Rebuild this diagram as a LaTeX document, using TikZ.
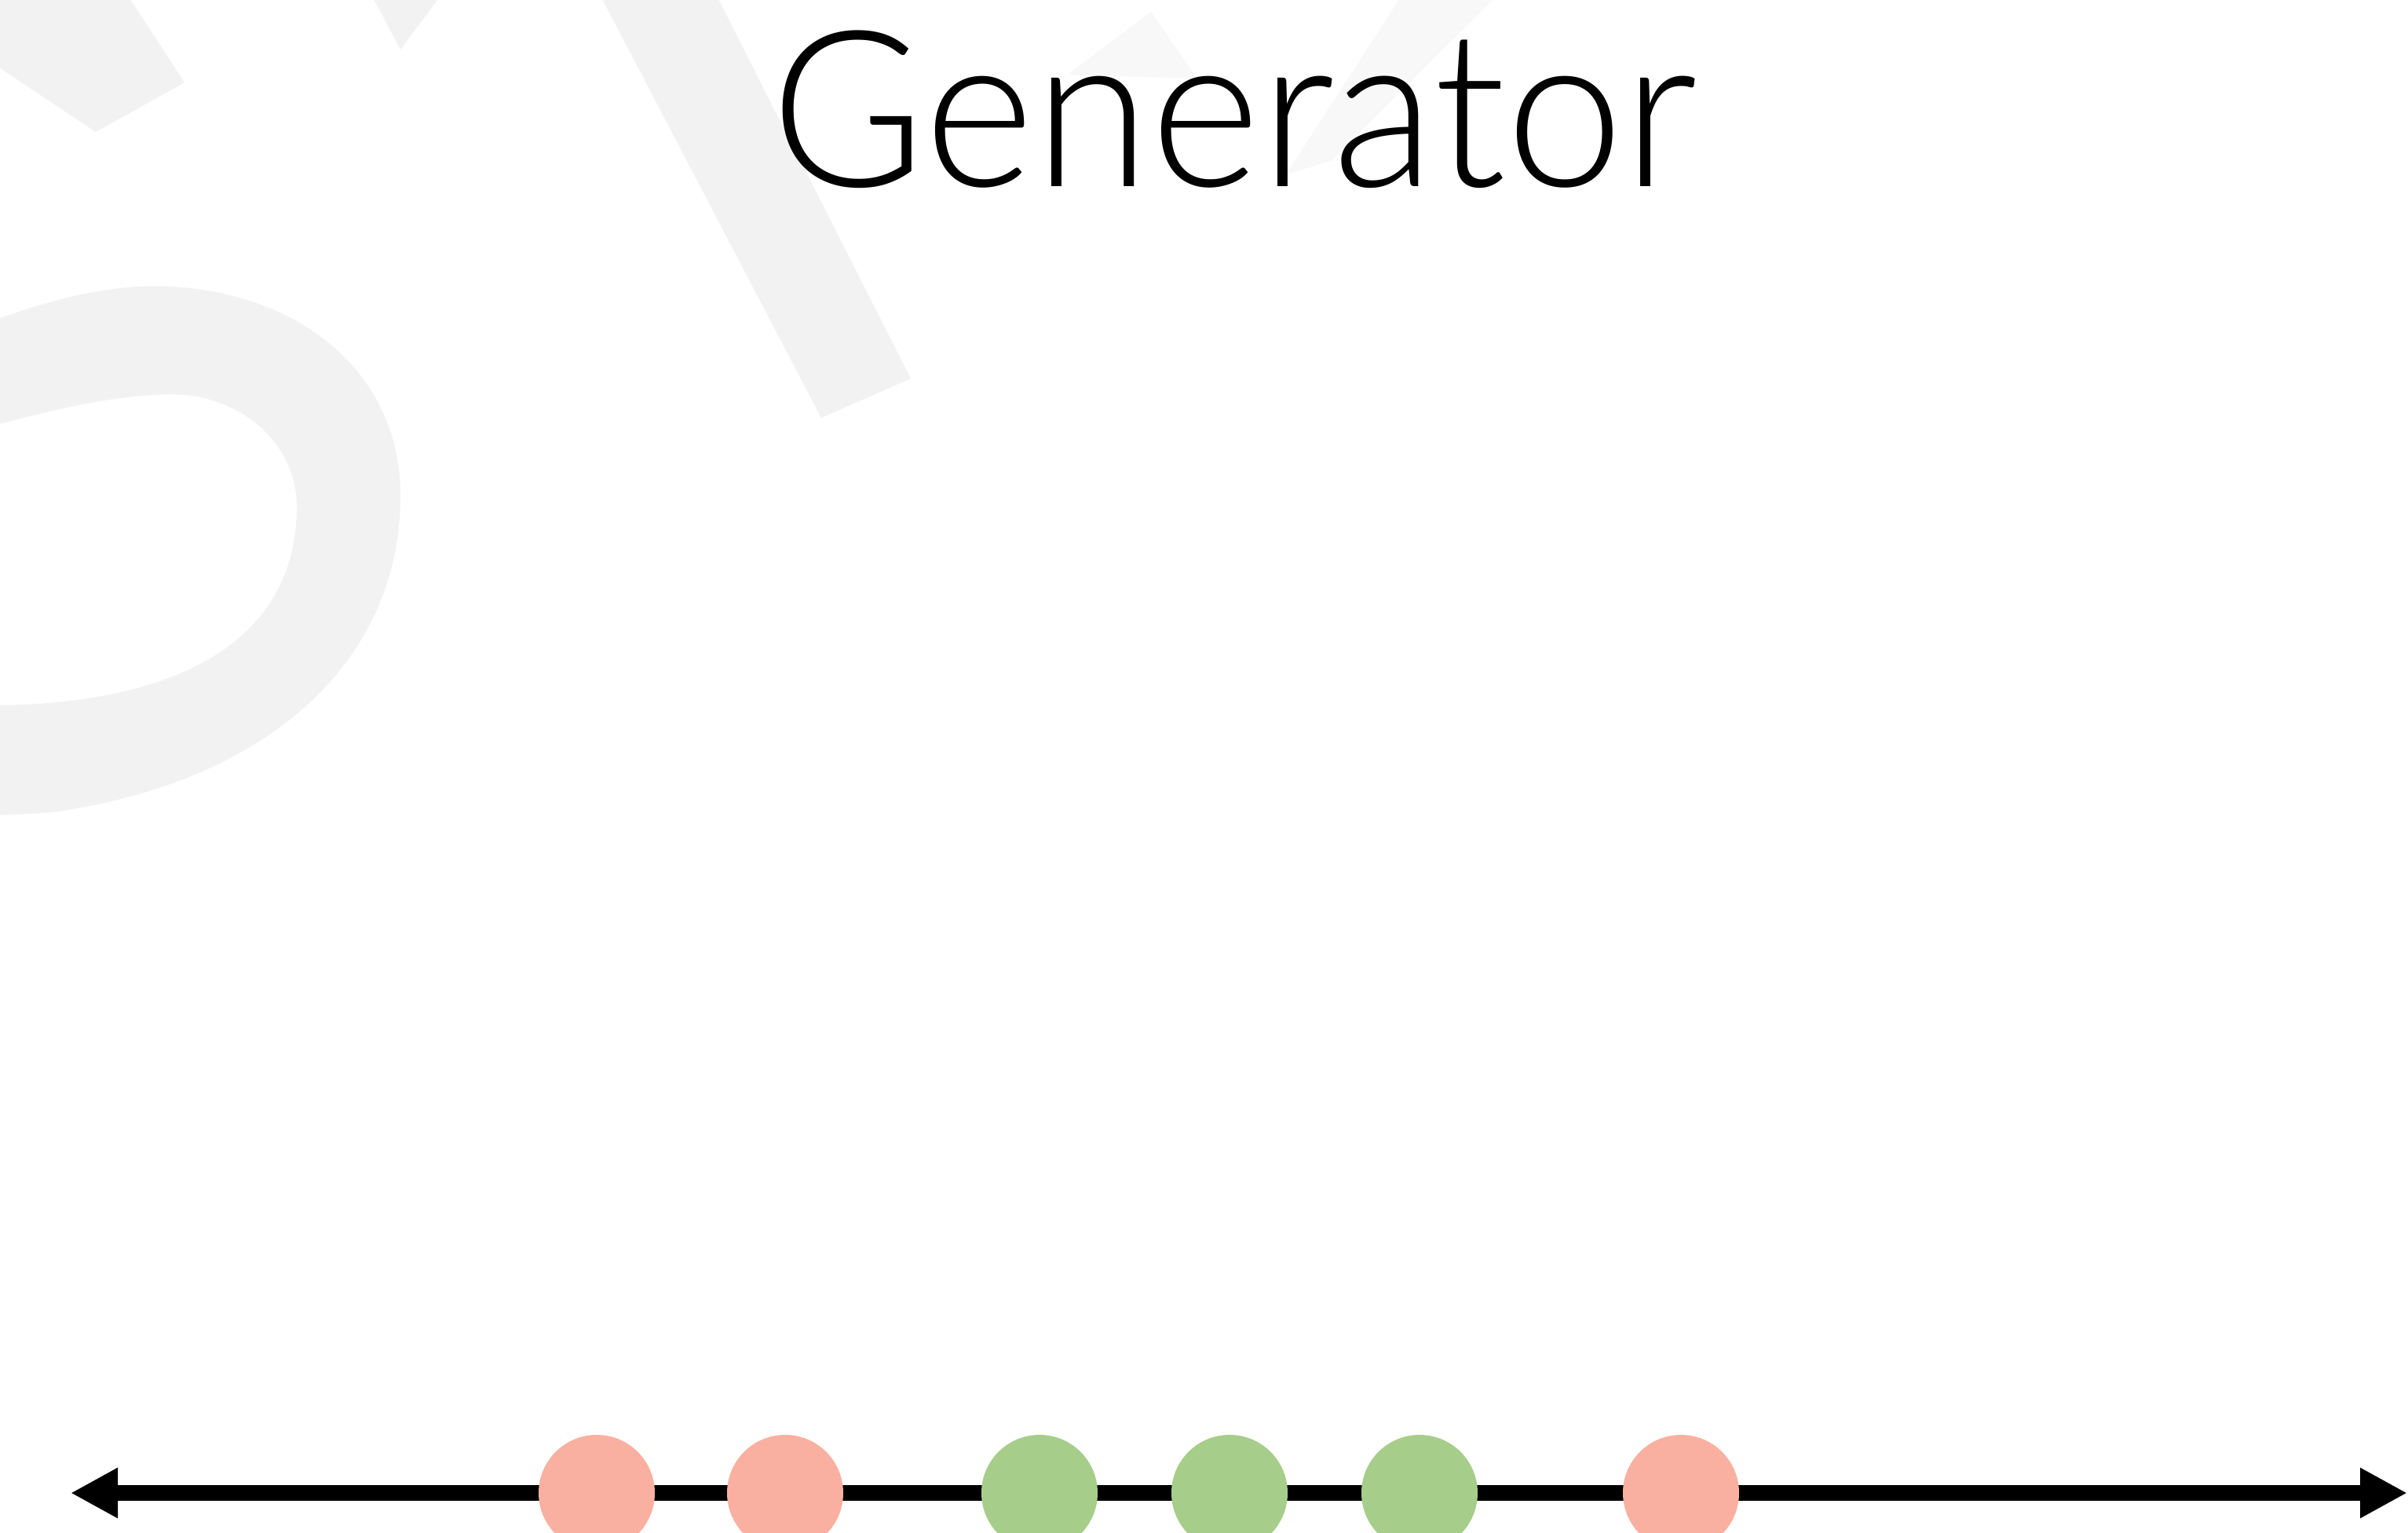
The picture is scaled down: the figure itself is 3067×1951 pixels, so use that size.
\documentclass[tikz,border=0pt]{standalone}
\usepackage{fontspec}
\newfontfamily\titlefont{Lato Light}
\usetikzlibrary{arrows.meta}

\definecolor{fake}{HTML}{FAB0A0}
\definecolor{real}{HTML}{A6CE8A}
\definecolor{wmark}{HTML}{F2F2F2}
\definecolor{wmfaint}{HTML}{F8F8F8}

\begin{document}
\begin{tikzpicture}[
  x=0.1mm, y=-0.1mm,
  line join=round,
  axis/.style={line width=2mm, {Triangle[length=6mm,width=6mm]}-{Triangle[length=6mm,width=6mm]}},
  dot/.style={circle, minimum size=14.8mm, inner sep=0pt},
  lbl/.style={font=\titlefont\fontsize{79}{90}\selectfont},
]
\clip (0,0) rectangle (3067,1951);
\fill[white] (0,0) rectangle (3067,1951);

% ── the faint letters in the back ─────────────────────────────────────────
\fill[wmark] (-40,420) .. controls (60,380) and (150,360) .. (219,365)
  .. controls (390,375) and (510,480) .. (510,631)
  .. controls (510,850) and (330,1000) .. (60,1035) -- (-40,1040) -- (-40,900) -- (0,898)
  .. controls (220,895) and (378,820) .. (378,645)
  .. controls (378,560) and (300,500) .. (214,502)
  .. controls (120,505) and (40,530) .. (-40,550) -- cycle;
\fill[wmark] (-10,-10) -- (160,-10) -- (235,105) -- (122,168) -- (-10,80) -- cycle;
\fill[wmark] (474,-5) -- (561,-5) -- (510,63) -- cycle;
\fill[wmark] (765,-5) -- (913,-5) -- (1160,482) -- (1046,532) -- cycle;
\fill[wmfaint] (1785,-5) -- (1906,-5) -- (1695,205) -- (1638,222) -- cycle;
\fill[wmfaint] (1466,15) -- (1525,100) -- (1360,95) -- cycle;

% ── the title ─────────────────────────────────────────────────────────────
\node[lbl, anchor=base, inner sep=0pt] (title) at (1572,237) {\scalebox{0.967}[1]{Generator}};

% ── the line and the samples on it ────────────────────────────────────────
\coordinate (lo) at (90,1901);
\coordinate (hi) at (3066,1901);
\draw[axis] (lo) -- (hi);

\foreach \x/\c [count=\i] in {760/fake, 1000/fake, 1324/real, 1566/real, 1808/real, 2141/fake} {
  \node[dot, fill=\c] (s\i) at (\x,1901) {};
}

\end{tikzpicture}
\end{document}
